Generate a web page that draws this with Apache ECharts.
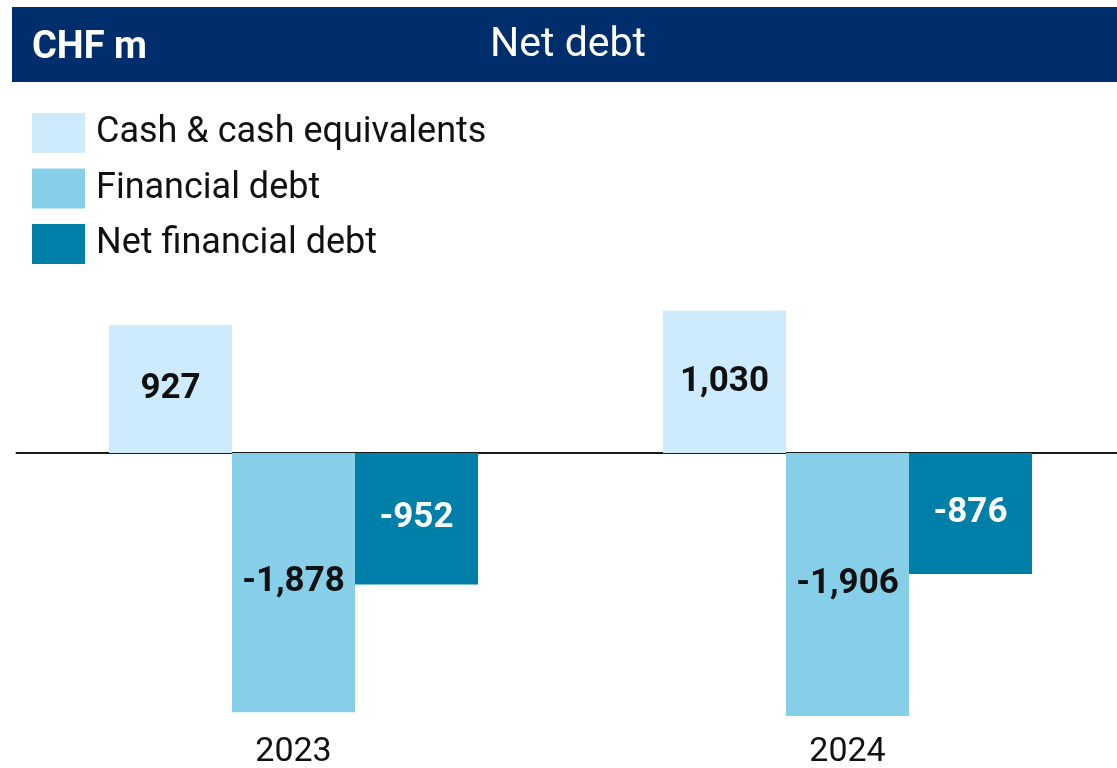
<!DOCTYPE html>
<html>
<head>
<meta charset="utf-8">
<script src="https://cdn.jsdelivr.net/npm/echarts@6/dist/echarts.min.js"></script>
<style>
  html, body { margin: 0; padding: 0; background: #fff; }
  #myChart { width: 1117px; height: 768px; }
</style>
</head>
<body>
<div id="myChart"></div>
<script>
// Net debt, CHF m
const years = ['2023', '2024'];
const cash = [927, 1030];
const financialDebt = [-1878, -1906];
const netDebt = [-952, -876];

const fmt = v => v.toLocaleString('en-US');

let myEchart = echarts.init(document.getElementById('myChart'));

function barLabel(color) {
    return {
        show: true,
        position: 'inside',
        color: color,
        fontFamily: 'Roboto',
        fontWeight: 'bold',
        fontSize: 35,
        formatter: p => fmt(p.value)
    };
}

myEchart.setOption({
    animation: false,
    textStyle: { fontFamily: 'Roboto' },
    graphic: [
        {
            type: 'rect',
            shape: { x: 12, y: 7, width: 1105, height: 75 },
            style: { fill: '#002d6b' }
        },
        {
            type: 'text',
            x: 32,
            y: 48,
            style: { text: 'CHF m', fill: '#fff', font: 'bold 38px Roboto', verticalAlign: 'middle' }
        },
        {
            type: 'text',
            x: 568,
            y: 46,
            style: { text: 'Net debt', fill: '#fff', font: '41px Roboto', align: 'center', verticalAlign: 'middle' }
        }
    ],
    legend: {
        orient: 'vertical',
        left: 32,
        top: 113,
        padding: 0,
        itemWidth: 53,
        itemHeight: 40,
        itemGap: 15.5,
        icon: 'rect',
        textStyle: { fontSize: 36, color: '#111', padding: [8, 0, 0, 6] },
        data: ['Cash & cash equivalents', 'Financial debt', 'Net financial debt']
    },
    // the second category runs past the right edge of the page
    grid: { left: 16.5, width: 1108, top: 287.4, bottom: 39, outerBoundsMode: 'none' },
    xAxis: [
        {
            type: 'category',
            data: years,
            position: 'bottom',
            axisLine: { show: false, onZero: false },
            axisTick: { show: false },
            axisLabel: { fontSize: 34, color: '#111', margin: 6 }
        },
        {
            type: 'category',
            data: years,
            position: 'top',
            axisLine: { show: true, onZero: true, lineStyle: { color: '#1a1a1a', width: 2 } },
            axisTick: { show: false },
            axisLabel: { show: false }
        }
    ],
    yAxis: {
        type: 'value',
        min: -2000,
        max: 1200,
        show: false,
        splitLine: { show: false }
    },
    series: [
        {
            name: 'Cash & cash equivalents',
            type: 'bar',
            barWidth: 123,
            barGap: '0%',
            itemStyle: { color: '#cdebfc' },
            label: barLabel('#111'),
            data: cash
        },
        {
            name: 'Financial debt',
            type: 'bar',
            barWidth: 123,
            barGap: '0%',
            itemStyle: { color: '#87cfe8' },
            label: barLabel('#111'),
            data: financialDebt
        },
        {
            name: 'Net financial debt',
            type: 'bar',
            barWidth: 123,
            barGap: '0%',
            itemStyle: { color: '#0080a8' },
            label: barLabel('#fff'),
            data: netDebt
        }
    ]
});
window.addEventListener('resize', function () {
    myEchart.resize();
});
</script>
</body>
</html>
